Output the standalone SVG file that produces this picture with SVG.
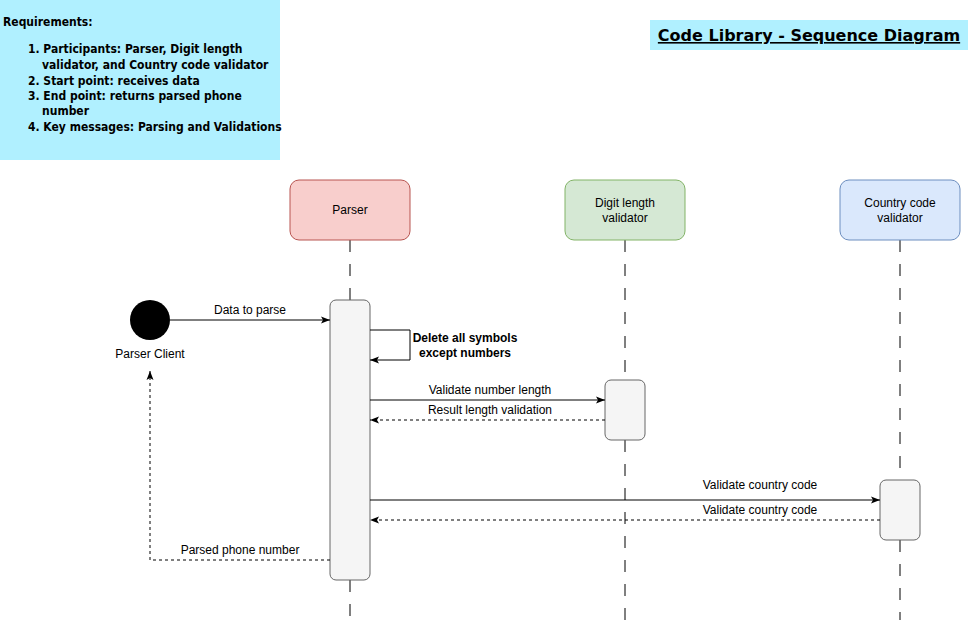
<svg xmlns="http://www.w3.org/2000/svg" width="970" height="630" viewBox="0 0 970 630">
<style>
.lbl{font-family:"Liberation Sans",Arial,sans-serif;font-size:12px;fill:#000}
.req{font-family:"DejaVu Sans Condensed","DejaVu Sans",Tahoma,sans-serif;font-size:12px;font-weight:bold;fill:#000}
.life{stroke:#000;stroke-width:1;stroke-dasharray:12 12;fill:none}
.act{fill:#f5f5f5;stroke:#666;stroke-width:1}
.msg{stroke:#000;stroke-width:1;fill:none}
.ret{stroke:#000;stroke-width:1;fill:none;stroke-dasharray:3 3}
</style>
<defs>
<marker id="arr" markerWidth="10" markerHeight="8" refX="9" refY="4" orient="auto" markerUnits="userSpaceOnUse">
<path d="M0,0.5 L9,4 L0,7.5 L2,4 Z" fill="#000"/>
</marker>
</defs>
<rect width="970" height="630" fill="#fff"/>
<g id="requirements">
<rect x="0" y="0" width="280" height="160" fill="#b0f0ff"/>
<text class="req" x="3" y="26">Requirements:</text>
<text class="req" x="28" y="53">1. Participants: Parser, Digit length</text>
<text class="req" x="42" y="69">validator, and Country code validator</text>
<text class="req" x="28" y="85">2. Start point: receives data</text>
<text class="req" x="28" y="100">3. End point: returns parsed phone</text>
<text class="req" x="42" y="115">number</text>
<text class="req" x="28" y="131">4. Key messages: Parsing and Validations</text>
</g>
<g id="title">
<rect x="650" y="20" width="318" height="30" fill="#b0f0ff"/>
<text x="809" y="41" text-anchor="middle" font-family="DejaVu Sans,Tahoma,sans-serif" font-size="16" font-weight="bold" text-decoration="underline">Code Library - Sequence Diagram</text>
</g>
<g id="lifelines">
<line class="life" x1="350" y1="240" x2="350" y2="300"/>
<line class="life" x1="350" y1="580" x2="350" y2="620"/>
<line class="life" x1="625" y1="240" x2="625" y2="380"/>
<line class="life" x1="625" y1="440" x2="625" y2="620"/>
<line class="life" x1="900" y1="240" x2="900" y2="480"/>
<line class="life" x1="900" y1="540" x2="900" y2="620"/>
</g>
<g id="parser">
<rect x="290" y="180" width="120" height="60" rx="9" fill="#f8cecc" stroke="#b85450"/>
<text class="lbl" x="350" y="214" text-anchor="middle">Parser</text>
</g>
<g id="digit-length-validator">
<rect x="565" y="180" width="120" height="60" rx="9" fill="#d5e8d4" stroke="#82b366"/>
<text class="lbl" x="625" y="207" text-anchor="middle">Digit length</text>
<text class="lbl" x="625" y="222" text-anchor="middle">validator</text>
</g>
<g id="country-code-validator">
<rect x="840" y="180" width="120" height="60" rx="9" fill="#dae8fc" stroke="#6c8ebf"/>
<text class="lbl" x="900" y="207" text-anchor="middle">Country code</text>
<text class="lbl" x="900" y="222" text-anchor="middle">validator</text>
</g>
<g id="parser-client">
<circle cx="150" cy="320" r="20" fill="#000"/>
<text class="lbl" x="150" y="358" text-anchor="middle">Parser Client</text>
</g>
<g id="parser-activation">
<rect class="act" x="330" y="300" width="40" height="280" rx="6"/>
</g>
<g id="digit-activation">
<rect class="act" x="605" y="380" width="40" height="60" rx="6"/>
</g>
<g id="country-activation">
<rect class="act" x="880" y="480" width="40" height="60" rx="6"/>
</g>
<g id="connectors">
<line class="msg" x1="170" y1="320" x2="330" y2="320" marker-end="url(#arr)"/>
<text class="lbl" x="250" y="314" text-anchor="middle">Data to parse</text>
<polyline class="msg" points="370,330 410,330 410,360 370,360" marker-end="url(#arr)"/>
<text class="lbl" x="465" y="342" text-anchor="middle" font-weight="bold">Delete all symbols</text>
<text class="lbl" x="465" y="357" text-anchor="middle" font-weight="bold">except numbers</text>
<line class="msg" x1="370" y1="400" x2="605" y2="400" marker-end="url(#arr)"/>
<text class="lbl" x="490" y="394" text-anchor="middle">Validate number length</text>
<line class="ret" x1="605" y1="420" x2="370" y2="420" marker-end="url(#arr)"/>
<text class="lbl" x="490" y="414" text-anchor="middle">Result length validation</text>
<line class="msg" x1="370" y1="500" x2="880" y2="500" marker-end="url(#arr)"/>
<text class="lbl" x="760" y="489" text-anchor="middle">Validate country code</text>
<line class="ret" x1="880" y1="520" x2="370" y2="520" marker-end="url(#arr)"/>
<text class="lbl" x="760" y="514" text-anchor="middle">Validate country code</text>
<polyline class="ret" points="330,560 150,560 150,371" marker-end="url(#arr)"/>
<text class="lbl" x="240" y="554" text-anchor="middle">Parsed phone number</text>
</g>
</svg>
